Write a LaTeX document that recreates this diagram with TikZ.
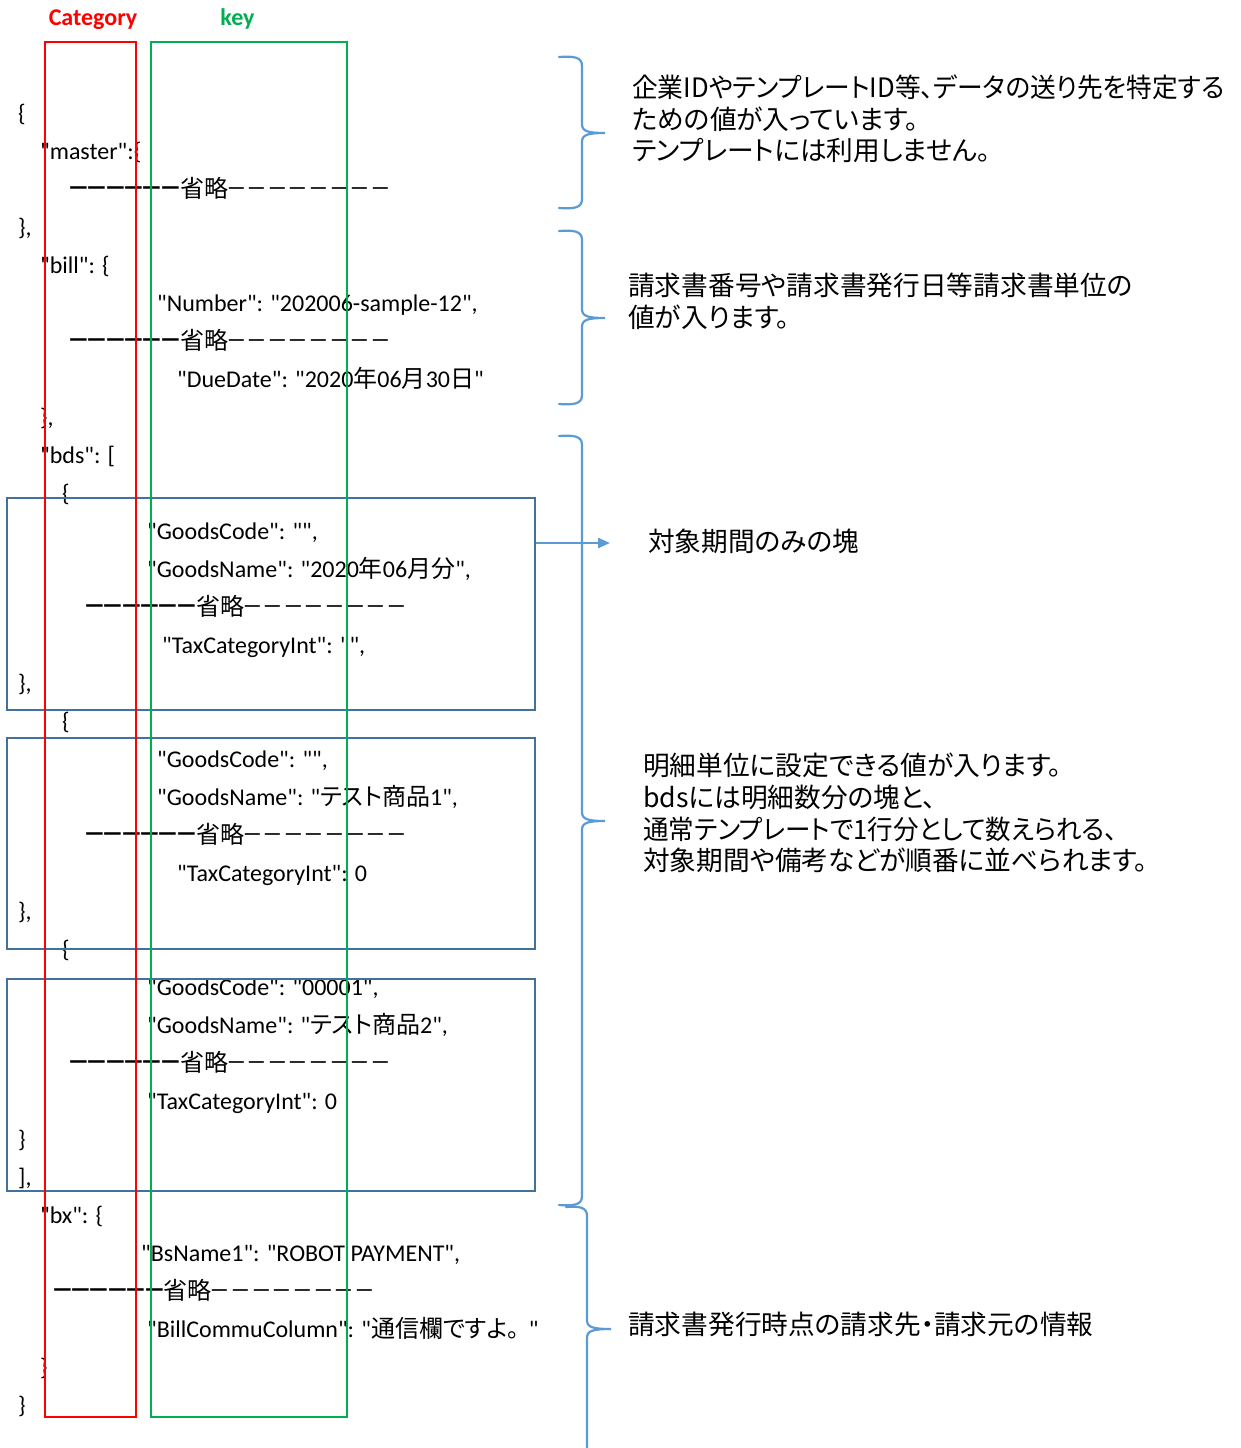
\documentclass[tikz,border=0pt]{standalone}
\usepackage{fontspec}
\newfontfamily\calf{Carlito}
\newfontfamily\jpf[RawFeature=+palt]{Noto Sans CJK JP}
\newfontfamily\jpn{Noto Sans CJK JP}
\usetikzlibrary{arrows.meta}
\definecolor{catred}{HTML}{FF0000}
\definecolor{keygreen}{HTML}{00B050}
\definecolor{boxblue}{HTML}{41719C}
\definecolor{braceblue}{HTML}{5B9BD5}
\newcommand\jp[1]{{\jpf #1}}
\newcommand\ldash{\raisebox{-4.5pt}{\scalebox{0.95}[1.5]{\jpn －}}}
\newcommand\tdash{\scalebox{0.86}[1]{\jpn －}}
\newcommand\omitrow{{\fontsize{24}{28}\selectfont\ldash\kern-4.4pt\ldash\kern-4.4pt\ldash\kern-4.4pt\ldash\kern-4.4pt\ldash\kern-4.4pt\ldash\kern-2pt{\jpn 省略}\kern-2pt\tdash\tdash\tdash\tdash\tdash\tdash\tdash\tdash}}
\newcommand\jbrace[6]{%
  \draw[bracestyle] (#1,#4) .. controls (#2-8,#4-1) and (#2,#4) .. (#2,#4+9)
    -- (#2,#5-9) .. controls (#2,#5-2) and (#2+5,#5) .. (#3,#5)
    .. controls (#2+5,#5) and (#2,#5+2) .. (#2,#5+9)
    -- (#2,#6-9) .. controls (#2,#6) and (#2-8,#6+1) .. (#1,#6);}
\begin{document}
\begin{tikzpicture}[x=1pt,y=-1pt,
  code/.style={anchor=base west,inner sep=0pt,font=\calf\fontsize{24}{28}\selectfont},
  note/.style={anchor=base west,inner sep=0pt,font=\jpf\fontsize{26.7}{32}\selectfont},
  head/.style={anchor=base,inner sep=0pt,font=\calf\bfseries\fontsize{24}{28}\selectfont},
  bluebox/.style={draw=boxblue,line width=2.5pt,inner sep=0pt,minimum width=528pt},
  colbox/.style={line width=2.5pt,inner sep=0pt,minimum height=1375pt},
  bracestyle/.style={draw=braceblue,line width=2.2pt,line cap=round},
  arr/.style={draw=braceblue,line width=2.2pt,-{Triangle[length=12pt,width=10pt]}}]
\useasboundingbox (0,0) rectangle (1240,1448);
\clip (0,0) rectangle (1240,1448);
\fill[white] (0,0) rectangle (1240,1448);

% headers
\node[head,text=catred] (hcat) at (93,25) {Category};
\node[head,text=keygreen] (hkey) at (237.5,25) {key};

% JSON rows
\node[code] (r0) at (18,121) {\{};
\node[code] (r1) at (40,159) {"master":\{};
\node[code] (r2) at (67,197) {\omitrow};
\node[code] (r3) at (18,235) {\},};
\node[code] (r4) at (40,273) {"bill": \{};
\node[code] (r5) at (157,311) {"Number": "202006-sample-12",};
\node[code] (r6) at (67,349) {\omitrow};
\node[code] (r7) at (177,387) {"DueDate": "2020\jp{年}06\jp{月}30\jp{日}"};
\node[code] (r8) at (40,425) {\},};
\node[code] (r9) at (40,463) {"bds": [};
\node[code] (r10) at (62,501) {\{};
\node[code] (r11) at (147,539) {"GoodsCode": "",};
\node[code] (r12) at (147,577) {"GoodsName": "2020\jp{年}06\jp{月分}",};
\node[code] (r13) at (83,615) {\omitrow};
\node[code] (r14) at (162,653) {"TaxCategoryInt": "",};
\node[code] (r15) at (18,691) {\},};
\node[code] (r16) at (62,729) {\{};
\node[code] (r17) at (157,767) {"GoodsCode": "",};
\node[code] (r18) at (157,805) {"GoodsName": "\jp{テスト商品}1",};
\node[code] (r19) at (83,843) {\omitrow};
\node[code] (r20) at (177,881) {"TaxCategoryInt": 0};
\node[code] (r21) at (18,919) {\},};
\node[code] (r22) at (62,957) {\{};
\node[code] (r23) at (147,995) {"GoodsCode": "00001",};
\node[code] (r24) at (147,1033) {"GoodsName": "\jp{テスト商品}2",};
\node[code] (r25) at (67,1071) {\omitrow};
\node[code] (r26) at (147,1109) {"TaxCategoryInt": 0};
\node[code] (r27) at (18,1147) {\}};
\node[code] (r28) at (18,1185) {],};
\node[code] (r29) at (40,1223) {"bx": \{};
\node[code] (r30) at (141,1261) {"BsName1": "ROBOT PAYMENT",};
\node[code] (r31) at (51,1299) {\omitrow};
\node[code] (r32) at (147,1337) {"BillCommuColumn": "\jp{通信欄ですよ}{\jpn 。}\kern-3pt"};
\node[code] (r33) at (40,1375) {\}};
\node[code] (r34) at (18,1413) {\}};

% blue boxes
\node[bluebox,minimum height=212pt] (box1) at (271,604) {};
\node[bluebox,minimum height=211pt] (box2) at (271,843.5) {};
\node[bluebox,minimum height=212pt] (box3) at (271,1085) {};

% category / key columns
\node[colbox,draw=catred,minimum width=91pt] (catcol) at (90.5,729.5) {};
\node[colbox,draw=keygreen,minimum width=196pt] (keycol) at (249,729.5) {};

% braces
\jbrace{559}{582}{605}{57}{133}{208}
\jbrace{559}{582}{605}{231}{318}{404}
\jbrace{559}{582}{605}{436}{821}{1205}
\jbrace{566}{587}{611}{1207}{1329}{1520}

% arrow
\coordinate (tgt) at (610,543);
\draw[arr] (box1.east |- tgt) -- (tgt);

% notes
\node[note] (n1a) at (632,97) {\scalebox{0.963}[1]{企業IDやテンプレートID等、データの送り先を特定する}};
\node[note] (n1b) at (632,129) {ための値が入っています。};
\node[note] (n1c) at (632,160) {テンプレートには利用しません。};
\node[note] (n2a) at (628,295) {請求書番号や請求書発行日等請求書単位の};
\node[note] (n2b) at (628,327) {値が入ります。};
\node[note] (n3) at (648,551) {対象期間のみの塊};
\node[note] (n4a) at (643,775) {明細単位に設定できる値が入ります。};
\node[note] (n4b) at (643,807) {bdsには明細数分の塊と、};
\node[note] (n4c) at (643,839) {\scalebox{0.956}[1]{通常テンプレートで1行分として数えられる、}};
\node[note] (n4d) at (643,870) {対象期間や備考などが順番に並べられます。};
\node[note] (n5) at (628,1334) {請求書発行時点の請求先・請求元の情報};
\end{tikzpicture}
\end{document}
